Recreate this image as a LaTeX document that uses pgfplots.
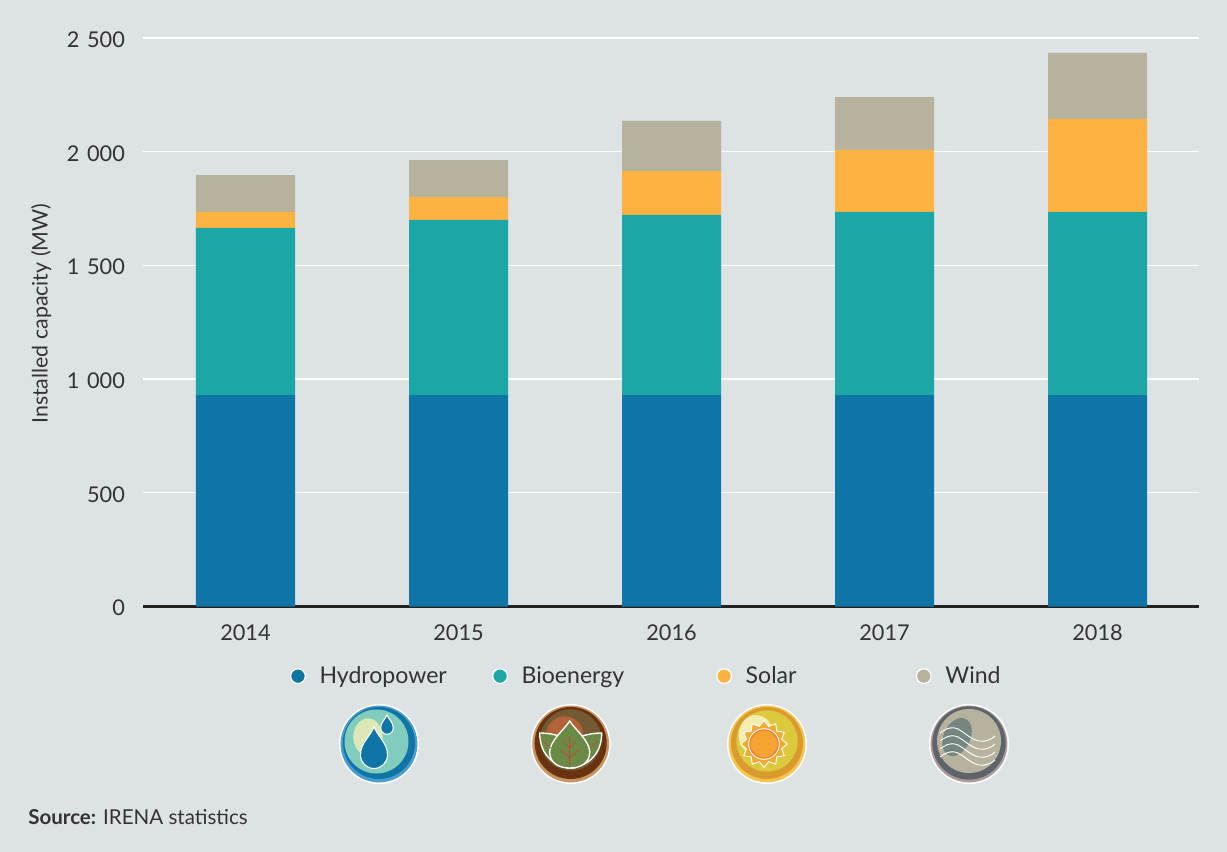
\documentclass[border=0pt]{standalone}
\usepackage{pgfplots}
\pgfplotsset{compat=1.18}
\usepackage{fontspec}
\setmainfont{Lato}
\usetikzlibrary{shapes.geometric}
\definecolor{bgc}{HTML}{DDE2E5}
\definecolor{hyd}{HTML}{0F74A6}
\definecolor{bio}{HTML}{1CA6A6}
\definecolor{sol}{HTML}{FDB241}
\definecolor{win}{HTML}{B6B29E}
\definecolor{txt}{HTML}{333333}
\definecolor{hA}{HTML}{4A9CCB}
\definecolor{hB}{HTML}{80CDBD}
\definecolor{hC}{HTML}{DDE8B8}
\definecolor{bA}{HTML}{C8945F}
\definecolor{bB}{HTML}{6A3210}
\definecolor{bC}{HTML}{735A35}
\definecolor{bD}{HTML}{B5613A}
\definecolor{bE}{HTML}{6B8A45}
\definecolor{bF}{HTML}{B5513A}
\definecolor{sA}{HTML}{F5C452}
\definecolor{sB}{HTML}{D99A2E}
\definecolor{sC}{HTML}{DCC93D}
\definecolor{sD}{HTML}{F5EDB0}
\definecolor{sE}{HTML}{F4A92F}
\definecolor{sF}{HTML}{F0702A}
\definecolor{sG}{HTML}{F4A430}
\definecolor{wA}{HTML}{AB9C9C}
\definecolor{wB}{HTML}{5E6469}
\definecolor{wC}{HTML}{75857F}
\newcommand{\drop}[4]{% x y r fill
  \draw[white,line width=0.8pt,fill=#4] (#1,#2+2.1*#3) .. controls (#1+.25*#3,#2+1.4*#3) and (#1+#3,#2+.9*#3) .. (#1+#3,#2)
   .. controls (#1+#3,#2-.55*#3) and (#1+.55*#3,#2-#3) .. (#1,#2-#3)
   .. controls (#1-.55*#3,#2-#3) and (#1-#3,#2-.55*#3) .. (#1-#3,#2)
   .. controls (#1-#3,#2+.9*#3) and (#1-.25*#3,#2+1.4*#3) .. cycle;}
\newcommand{\leaf}[2]{\draw[white,line width=1pt,fill=#2] #1;}
\begin{document}
\begin{tikzpicture}[x=0.75pt,y=0.75pt]
\fill[bgc] (0,0) rectangle (1227,-852);
\clip (0,0) rectangle (1227,-852);
\begin{axis}[
  at={(107.25pt,-454.875pt)}, anchor=south west,
  scale only axis, width=792pt, height=426.4pt,
  xmin=-0.4812, xmax=4.4765, ymin=0, ymax=2500,
  ybar stacked, bar width=0.4648,
  axis x line*=bottom, axis y line*=left,
  x axis line style={-,draw=black!87,line width=2.1pt},
  y axis line style={draw=none},
  xtick=data, xticklabels={2014,2015,2016,2017,2018},
  ytick={0,500,1000,1500,2000,2500},
  major tick length=0pt,
  ymajorgrids, grid style={white,line width=0.9pt},
  tick label style={font=\fontsize{16.3}{18}\selectfont,text=txt},
  /pgf/number format/assume math mode=true,
  /pgf/number format/1000 sep={\hspace{5.8pt}},
  yticklabel style={xshift=-10pt,yshift=-1.2pt},
  xticklabel style={yshift=-10.5pt},
  ylabel={Installed capacity (MW)},
  ylabel style={font=\fontsize{16}{18}\selectfont,text=txt,at={(axis description cs:-0.0965,0.515)},anchor=center},
  legend columns=4,
  legend cell align=left,
  legend style={at={(0.139,-0.1225)},anchor=west,draw=none,fill=none,inner sep=0pt,
    font=\fontsize{17.3}{18}\selectfont,text=txt,
    /tikz/column 1/.style={column sep=8.25pt},
    /tikz/column 2/.style={column sep=32pt},
    /tikz/column 3/.style={column sep=8.25pt},
    /tikz/column 4/.style={column sep=67pt},
    /tikz/column 5/.style={column sep=8.25pt},
    /tikz/column 6/.style={column sep=87.5pt},
    /tikz/column 7/.style={column sep=8.25pt}},
  legend image code/.code={\draw[#1,draw=white,line width=0.9pt] (0,0) circle (5.5pt);},
]
\addplot[fill=hyd,draw=none] coordinates {(0,930) (1,930) (2,930) (3,930) (4,930)};
\addlegendentry{Hydropower}
\addplot[fill=bio,draw=none] coordinates {(0,735) (1,770) (2,792) (3,805) (4,805)};
\addlegendentry{Bioenergy}
\addplot[fill=sol,draw=none] coordinates {(0,70) (1,100) (2,193) (3,273) (4,409)};
\addlegendentry{Solar}
\addplot[fill=win,draw=none] coordinates {(0,162) (1,163) (2,220) (3,232) (4,290)};
\addlegendentry{Wind}
\end{axis}
% hydropower icon
\begin{scope}[shift={(379,-744)}]
  \fill[white] (0,0) circle (30pt);
  \fill[hA] (0,0) circle (28.8pt);
  \fill[hyd] (0,1) circle (27pt);
  \fill[hB] (-2.5,2.5) circle (24pt);
  \fill[hC] (-11,7) ellipse (11pt and 14pt);
  \drop{-5}{-11}{13.5}{hyd}
  \drop{8}{16}{6.3}{hyd}
\end{scope}
% bioenergy icon
\begin{scope}[shift={(570.7,-744)}]
  \fill[white] (0,0) circle (30pt);
  \fill[bA] (0,0) circle (28.8pt);
  \fill[bB] (0,1) circle (27pt);
  \fill[bC] (0,4) circle (23pt);
  \fill[bD] (-6,9) circle (14pt);
  \leaf{(-31,11) .. controls (-22,11) and (-12,9) .. (-4,5) -- (4,-24) .. controls (-15,-24) and (-31,-12) .. cycle}{bE}
  \leaf{(31,11) .. controls (22,11) and (12,9) .. (4,5) -- (-4,-24) .. controls (15,-24) and (31,-12) .. cycle}{bE}
  \leaf{(-1,23) .. controls (4,15) and (19,3) .. (19,-8) .. controls (19,-19) and (10,-24) .. (-1,-24) .. controls (-12,-24) and (-21,-19) .. (-21,-8) .. controls (-21,3) and (-6,15) .. cycle}{bE}
  \draw[bF,line width=0.7pt] (-1,-22) -- (-1,8) (-1,-14) -- (-10,-6) (-1,-14) -- (8,-6) (-1,-4) -- (-7,2) (-1,-4) -- (5,2);
  \draw[bF,line width=0.7pt] (-27,3) -- (-20,-4) (27,3) -- (20,-4);
\end{scope}
% solar icon
\begin{scope}[shift={(767,-744)}]
  \fill[white] (0,0) circle (30pt);
  \fill[sA] (0,0) circle (28.8pt);
  \fill[sB] (0,1) circle (27pt);
  \fill[sC] (0,3) circle (23pt);
  \fill[sD] (-11,9) ellipse (13pt and 15pt);
  \node[star,star points=12,star point ratio=1.28,minimum size=35pt,inner sep=0pt,draw=white,line width=0.7pt,fill=sE] at (-3,0) {};
  \fill[white] (-3,0) circle (11.8pt);
  \fill[sF] (-3,0) circle (11pt);
  \fill[sG] (-3,0) circle (10.2pt);
\end{scope}
% wind icon
\begin{scope}[shift={(969,-744)}]
  \fill[white] (0,0) circle (30pt);
  \fill[wA] (0,0) circle (28.8pt);
  \fill[wB] (0,1) circle (27.5pt);
  \fill[win] (0,3) circle (24pt);
  \fill[wC,rotate around={-25:(-12,7)}] (-12,7) ellipse (10pt and 15pt);
  \foreach \d in {0,8,16,24}{
    \draw[white,line width=0.7pt] (-29,11-\d) .. controls (-24,15-\d) and (-19,17-\d) .. (-14,16-\d)
      .. controls (-6,14-\d) and (0,5-\d) .. (10,3-\d) .. controls (17,2-\d) and (23,5-\d) .. (26,8-\d);
  }
\end{scope}
\node[anchor=base west,inner sep=0pt,text=txt,font=\fontsize{15.4}{16}\selectfont] at (28,-824) {\textbf{Source:} IRENA statistics};
\end{tikzpicture}
\end{document}
